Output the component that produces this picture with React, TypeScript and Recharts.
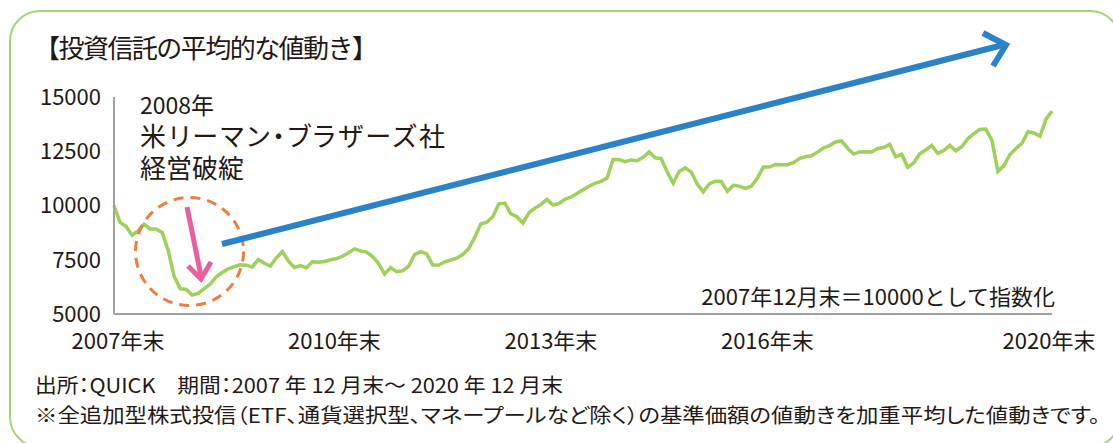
import { LineChart, Line, XAxis, YAxis } from "recharts";

// month-end categories, 2007-12 .. 2020-12
const months: string[] = [];
for (let y = 2007; y <= 2020; y++) {
  for (let m = 1; m <= 12; m++) {
    if (y === 2007 && m < 12) continue;
    months.push(`${y}-${String(m).padStart(2, "0")}`);
  }
}

// 投資信託の平均的な値動き (2007年12月末 = 10000)
const indexValues = [
  10000, 9220, 9040, 8630, 8830, 9140, 8920, 8920, 8760, 7940, 6740, 6170,
  6130, 5870, 5950, 6170, 6380, 6710, 6910, 7080, 7180, 7270, 7250, 7170,
  7510, 7340, 7210, 7590, 7880, 7440, 7140, 7230, 7130, 7410, 7380, 7420,
  7500, 7550, 7660, 7820, 8000, 7910, 7850, 7650, 7330, 6840, 7140, 6950,
  6990, 7210, 7740, 7870, 7770, 7260, 7260, 7400, 7490, 7570, 7740, 8020,
  8540, 9150, 9230, 9480, 10080, 10110, 9620, 9480, 9190, 9660, 9880, 10040,
  10280, 10020, 10090, 10280, 10390, 10550, 10730, 10890, 11020, 11110, 11260, 12120,
  12120, 12020, 12100, 12060, 12220, 12470, 12200, 12160, 11540, 11030, 11570, 11740,
  11540, 10990, 10630, 11000, 11120, 11110, 10650, 10930, 10890, 10790, 10890, 11260,
  11770, 11770, 11890, 11880, 11880, 11970, 12160, 12250, 12290, 12460, 12650, 12760,
  12930, 12980, 12640, 12370, 12470, 12480, 12470, 12630, 12670, 12820, 12250, 12360,
  11760, 11960, 12380, 12560, 12770, 12400, 12530, 12770, 12520, 12710, 13080, 13310,
  13500, 13520, 13010, 11570, 11840, 12350, 12630, 12860, 13400, 13340, 13190, 13980,
  14350,
];

const xTicks = ["2007-12", "2010-12", "2013-12", "2016-12", "2020-12"];
const xTickLabels = ["2007年末", "2010年末", "2013年末", "2016年末", "2020年末"];
const yTicks = [5000, 7500, 10000, 12500, 15000];

const chartData = months.map((month, i) => ({ month, value: indexValues[i] }));

const TEXT = "#231815";
const FONT = "'Noto Sans CJK JP', 'Noto Sans', sans-serif";
const palt = { fontFeatureSettings: '"palt"' };

function XTick(props: any) {
  const { x, y, payload } = props;
  const idx = xTicks.indexOf(payload.value);
  const last = idx === xTicks.length - 1;
  return (
    <text x={x + (last ? -3 : 4)} y={y + 35} textAnchor="middle" fontSize={22} fill={TEXT}>
      {xTickLabels[idx]}
    </text>
  );
}

export default function App() {
  return (
    <div
      style={{
        position: "fixed",
        left: 0,
        top: 0,
        width: 1113,
        height: 443,
        overflow: "hidden",
        background: "#fff",
        fontFamily: FONT,
      }}
    >
      <LineChart
        width={1113}
        height={443}
        data={chartData}
        margin={{ top: 97, right: 61, bottom: 0, left: 0 }}
      >
        <XAxis
          dataKey="month"
          ticks={xTicks}
          interval={0}
          height={129}
          tickLine={false}
          tickSize={0}
          tickMargin={0}
          axisLine={{ stroke: "#9fa0a0", strokeWidth: 2 }}
          tick={<XTick />}
        />
        <YAxis
          domain={[5000, 15000]}
          ticks={yTicks}
          width={114}
          tickLine={false}
          tickSize={6}
          tickMargin={7}
          axisLine={{ stroke: "#9fa0a0", strokeWidth: 2 }}
          tick={{ fill: TEXT, fontSize: 22 }}
        />
        <Line
          type="linear"
          dataKey="value"
          stroke="#9fd05a"
          strokeWidth={3.5}
          dot={false}
          isAnimationActive={false}
        />
      </LineChart>

      {/* annotations drawn over the chart */}
      <svg
        width={1113}
        height={443}
        style={{ position: "absolute", left: 0, top: 0, pointerEvents: "none" }}
      >
        <rect x={10} y={11} width={1110} height={436} rx={30} fill="none" stroke="#a5d37b" strokeWidth={2} />
        <text x={34} y={58} fontSize={26} fill={TEXT} textLength={344}>【投資信託の平均的な値動き】</text>

        <text x={140} y={114} fontSize={23} fill={TEXT}>2008年</text>
        <text x={140} y={146} fontSize={26} fill={TEXT} style={palt} textLength={305}>
          米リーマン・ブラザーズ社
        </text>
        <text x={140} y={178} fontSize={26} fill={TEXT}>経営破綻</text>

        <circle cx={189.5} cy={251.5} r={54} fill="none" stroke="#f07d3c" strokeWidth={3} strokeDasharray="10 7" />
        <line x1={187} y1={207} x2={201} y2={276} stroke="#ea5ea0" strokeWidth={5} />
        <polyline points="188,266 201,279 211,262" fill="none" stroke="#ea5ea0" strokeWidth={5} />

        <line x1={222} y1={244} x2={1003} y2={45} stroke="#2a82c8" strokeWidth={6} />
        <polyline points="983,33 1006,45 993,66" fill="none" stroke="#2a82c8" strokeWidth={6} />

        <text x={1055} y={305} textAnchor="end" fontSize={22} fill={TEXT}>2007年12月末＝10000として指数化</text>

        <text x={35} y={393} fontSize={20} fill={TEXT} style={palt} textLength={528} lengthAdjust="spacingAndGlyphs">
          出所：QUICK　期間：2007 年 12 月末～ 2020 年 12 月末
        </text>
        <text x={35} y={423} fontSize={20} fill={TEXT} style={palt} textLength={1065} lengthAdjust="spacingAndGlyphs">
          ※全追加型株式投信（ETF、通貨選択型、マネープールなど除く）の基準価額の値動きを加重平均した値動きです。
        </text>
      </svg>
    </div>
  );
}
